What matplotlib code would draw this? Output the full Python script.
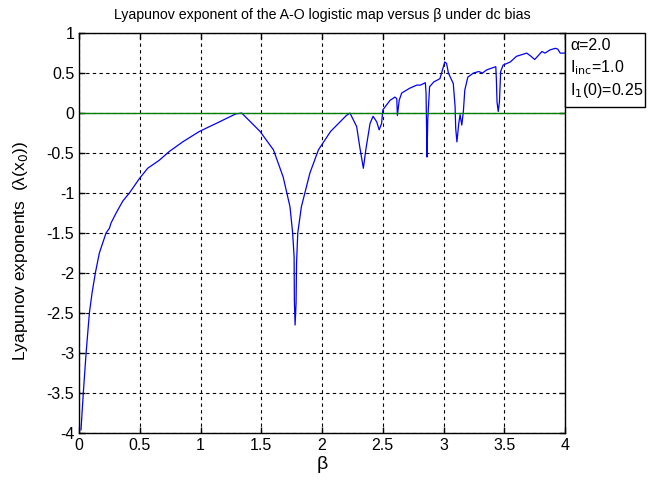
import numpy as np
import matplotlib.pyplot as plt
from matplotlib.patches import Rectangle

plt.rcParams["font.family"] = ["Liberation Sans", "DejaVu Sans"]

# values
beta = [0.016, 0.035, 0.058, 0.085, 0.107, 0.134, 0.167, 0.222, 0.25, 0.263,
        0.305, 0.36, 0.414, 0.496, 0.565, 0.66, 0.743, 0.853, 0.99, 1.155,
        1.29, 1.339, 1.49, 1.60, 1.68, 1.736,
        1.758, 1.77, 1.772, 1.778, 1.786, 1.79, 1.80, 1.83, 1.90, 1.97,
        2.07, 2.20, 2.23, 2.285, 2.31, 2.34, 2.36, 2.395, 2.42, 2.45,
        2.47, 2.49, 2.50, 2.56, 2.60, 2.615, 2.62, 2.635, 2.655, 2.72,
        2.78, 2.81, 2.85, 2.856, 2.86, 2.864, 2.87, 2.885, 2.92, 2.97,
        3.01, 3.025, 3.04, 3.08, 3.095, 3.10, 3.11, 3.125, 3.136, 3.15,
        3.163, 3.175, 3.20, 3.245, 3.29, 3.32, 3.355, 3.41, 3.43, 3.435,
        3.44, 3.45, 3.46, 3.47, 3.49, 3.55, 3.60, 3.685, 3.72, 3.75,
        3.78, 3.81, 3.835, 3.876, 3.92, 3.94, 3.96, 4.0]
lyap = [-3.96, -3.5, -3.0, -2.5, -2.25, -2.0, -1.75, -1.5, -1.44, -1.375,
        -1.25, -1.1, -1.0, -0.82, -0.69, -0.59, -0.48, -0.36, -0.23, -0.11,
        -0.01, 0.0, -0.23, -0.46, -0.8, -1.17,
        -1.5, -1.8, -2.34, -2.65, -2.38, -1.88, -1.5, -1.17, -0.75, -0.46,
        -0.23, -0.03, 0.0, -0.17, -0.42, -0.69, -0.46, -0.13, -0.04, -0.11,
        -0.21, -0.13, 0.04, 0.16, 0.2, 0.18, -0.03, 0.16, 0.25, 0.31,
        0.35, 0.35, 0.38, 0.25, -0.17, -0.55, -0.08, 0.33, 0.39, 0.43,
        0.64, 0.62, 0.5, 0.37, 0.08, -0.19, -0.36, -0.13, -0.02, -0.15,
        0.02, 0.29, 0.45, 0.5, 0.52, 0.5, 0.54, 0.57, 0.58, 0.41,
        0.14, 0.02, 0.14, 0.52, 0.6, 0.64, 0.71, 0.75, 0.71, 0.67,
        0.72, 0.77, 0.75, 0.79, 0.81, 0.80, 0.75, 0.75]

xticks = np.arange(0, 4.01, 0.5)
yticks = np.arange(-4, 1.01, 0.5)


def fmt(v):
    s = "%g" % v
    return "0" if s == "-0" else s


fig = plt.figure(figsize=(6.48, 4.8), dpi=100)
ax = fig.add_axes([0.122, 0.098, 0.750, 0.833])

ax.plot(beta, lyap, color="#0000ff", lw=0.9)
ax.axhline(0, color="#008000", lw=1.0)

ax.set_xlim(0, 4)
ax.set_ylim(-4, 1)
ax.set_xticks(xticks)
ax.set_yticks(yticks)
ax.set_xticklabels([fmt(v) for v in xticks])
ax.set_yticklabels([fmt(v) for v in yticks])
ax.tick_params(direction="in", labelsize=11.5, length=4, width=1, top=True, right=True)
ax.grid(True, color="black", linestyle=(0, (3, 3)), lw=0.8)
for sp in ax.spines.values():
    sp.set_linewidth(1.0)

ax.set_title("Lyapunov exponent of the A-O logistic map versus β under dc bias",
             fontsize=10.2, pad=10)
ax.set_xlabel("β", fontsize=14, labelpad=2)
ax.set_ylabel("Lyapunov exponents  (λ(x$_0$))", fontsize=12.5)
ax.yaxis.set_label_coords(-0.1, 0.455)

# annotation box to the right of the axes
fig.add_artist(Rectangle((565 / 648, 1 - 107 / 480), 80 / 648, 74 / 480,
                         transform=fig.transFigure, fc="white", ec="black", lw=1.0))
fig.text(570 / 648, 1 - 38 / 480, "α=2.0\nI$_{\\rm inc}$=1.0\nI$_1$(0)=0.25",
         fontsize=11.5, va="top", ha="left", linespacing=1.35)

fig.savefig("out.png", dpi=100)
